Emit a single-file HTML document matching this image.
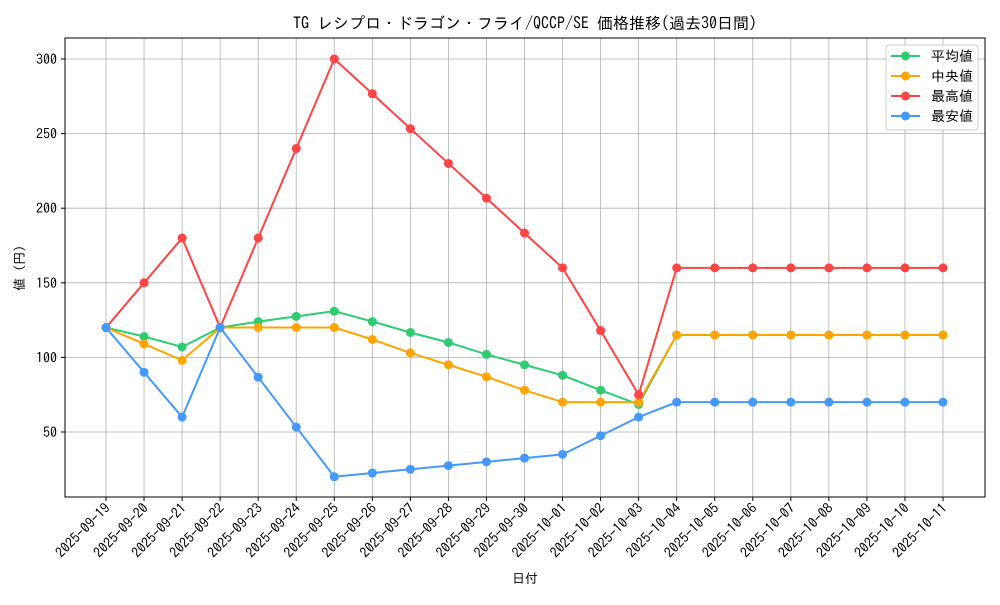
<!DOCTYPE html>
<html><head><meta charset="utf-8"><style>
html,body{margin:0;padding:0;background:#fff;}
svg text{font-family:"IPAGothic","Noto Sans CJK JP",sans-serif;fill:#000;}
</style></head><body>
<svg id="c" width="1000" height="600" xmlns="http://www.w3.org/2000/svg"></svg>
<script>
const s=document.getElementById('c');
const L=65,R=985,T=38,B=497;
const x0=106,dx=(943-106)/22;
const Y=v=>59+(300-v)*373/250;
const X=i=>x0+i*dx;
let h='';
h+=`<rect x="0" y="0" width="1000" height="600" fill="#fff"/>`;
const dates=[];
for(let d=19;d<=30;d++)dates.push('2025-09-'+d);
for(let d=1;d<=11;d++)dates.push('2025-10-'+String(d).padStart(2,'0'));
for(let i=0;i<23;i++)h+=`<line x1="${X(i)}" y1="${T}" x2="${X(i)}" y2="${B}" stroke="#b0b0b0" stroke-width="0.8"/>`;
for(const v of [50,100,150,200,250,300])h+=`<line x1="${L}" y1="${Y(v)}" x2="${R}" y2="${Y(v)}" stroke="#b0b0b0" stroke-width="0.8"/>`;
const avg=[120,114,107,120,124,127.5,131,124,116.7,110,102,95,88,78,68.5,115,115,115,115,115,115,115,115];
const med=[120,109,98,120,120,120,120,112,103,95,87,78,70,70,70,115,115,115,115,115,115,115,115];
const mx=[120,150,180,120,180,240,300,276.7,253.3,230,206.7,183.3,160,118,75,160,160,160,160,160,160,160,160];
const mn=[120,90,60,120,86.7,53.3,20,22.5,25,27.5,30,32.5,35,47.5,60,70,70,70,70,70,70,70,70];
const ser=[[avg,'#2ecc71'],[med,'#ffa500'],[mx,'#ff4444'],[mn,'#4499ff']];
for(const [d,c] of ser){
 h+=`<polyline fill="none" stroke="${c}" stroke-width="2" points="${d.map((v,i)=>X(i)+','+Y(v)).join(' ')}"/>`;
 d.forEach((v,i)=>h+=`<circle cx="${X(i)}" cy="${Y(v)}" r="4.5" fill="${c}"/>`);
}
h+=`<rect x="${L}" y="${T}" width="${R-L}" height="${B-T}" fill="none" stroke="#000" stroke-width="1"/>`;
for(const v of [50,100,150,200,250,300]){h+=`<line x1="${L-4}" y1="${Y(v)}" x2="${L}" y2="${Y(v)}" stroke="#000"/><text x="${L-8}" y="${Y(v)+5}" font-size="14" text-anchor="end">${v}</text>`;}
dates.forEach((d,i)=>{h+=`<line x1="${X(i)}" y1="${B}" x2="${X(i)}" y2="${B+4}" stroke="#000"/><text font-size="14" text-anchor="end" transform="translate(${X(i)+5},${B+12}) rotate(-45)">${d}</text>`;});
h+=`<text x="525" y="29" font-size="16" text-anchor="middle">TG レシプロ・ドラゴン・フライ/QCCP/SE 価格推移(過去30日間)</text>`;
h+=`<text x="525" y="583" font-size="13" text-anchor="middle">日付</text>`;
h+=`<text font-size="13" text-anchor="middle" transform="translate(24,268) rotate(-90)">値 (円)</text>`;
h+=`<rect x="886" y="45" width="92" height="85" rx="3" fill="#fff" fill-opacity="0.8" stroke="#ccc"/>`;
const names=['平均値','中央値','最高値','最安値'];
ser.forEach(([d,c],k)=>{const yy=56+k*20;h+=`<line x1="891" y1="${yy}" x2="920" y2="${yy}" stroke="${c}" stroke-width="2"/><circle cx="905.5" cy="${yy}" r="4.5" fill="${c}"/><text x="931" y="${yy+5}" font-size="14">${names[k]}</text>`;});
s.innerHTML=h;
</script>
</body></html>
